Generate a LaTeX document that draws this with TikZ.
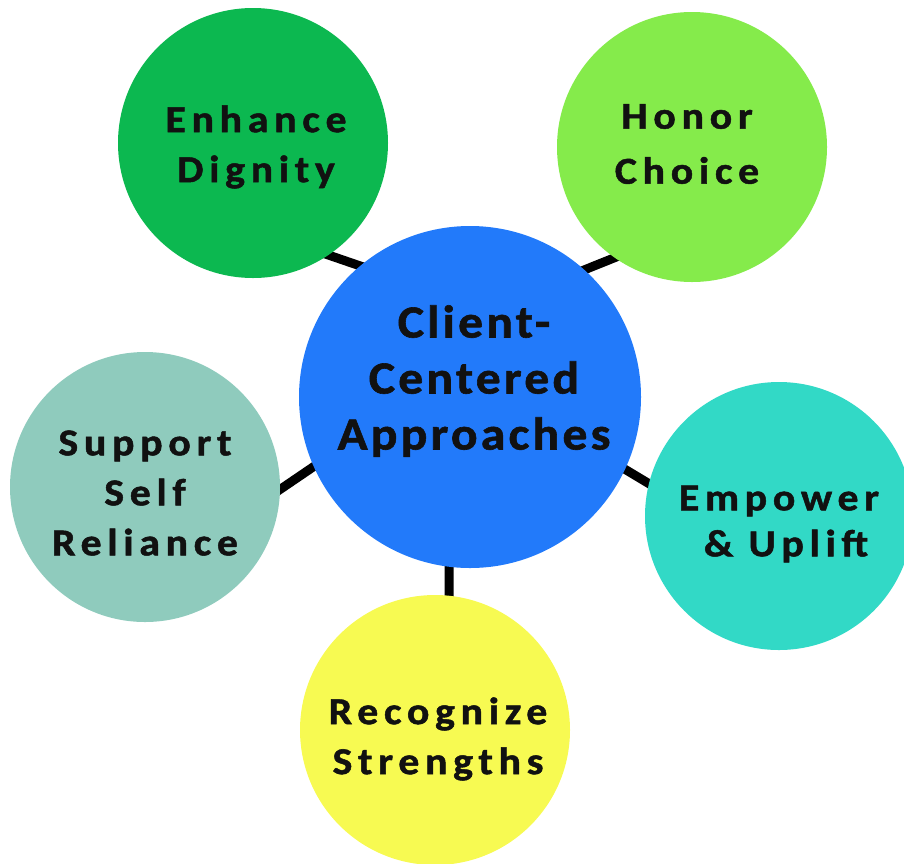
\documentclass[tikz,border=0pt]{standalone}
\usepackage{fontspec}
\usetikzlibrary{backgrounds}
\newfontfamily\lblfont{Carlito}[LetterSpace=15,FakeStretch=1.1,BoldFeatures={FakeBold=1.3}]
\newfontfamily\hubfont{Carlito}[LetterSpace=7,FakeStretch=1.08,BoldFeatures={FakeBold=1.3}]
\definecolor{cBlue}{RGB}{34,122,250}
\definecolor{cDignity}{RGB}{12,184,80}
\definecolor{cChoice}{RGB}{133,235,75}
\definecolor{cSelf}{RGB}{143,203,189}
\definecolor{cUplift}{RGB}{50,217,198}
\definecolor{cStrength}{RGB}{247,250,82}
\definecolor{cInk}{RGB}{17,17,17}
\begin{document}
\begin{tikzpicture}[x=1pt,y=-1pt,
  bubble/.style={circle,draw=none,inner sep=0pt,minimum size=270pt},
  hub/.style={circle,draw=none,inner sep=0pt,minimum size=342pt},
  lbl/.style={align=center,inner sep=0pt,text=cInk,
    font=\lblfont\bfseries\fontsize{38}{50}\selectfont},
  hublbl/.style={align=center,inner sep=0pt,text=cInk,
    font=\hubfont\bfseries\fontsize{46}{56}\selectfont},
  spoke/.style={line width=9pt,draw=black,shorten <=-6pt,shorten >=-6pt}]
\useasboundingbox (0,0) rectangle (904,863);
\clip (0,0) rectangle (904,863);
% circles
\node[hub,fill=cBlue] (cen) at (470,397) {};
\node[bubble,fill=cDignity] (dig) at (253,143) {};
\node[bubble,fill=cChoice] (hon) at (692,147) {};
\node[bubble,fill=cSelf] (sup) at (145,487) {};
\node[bubble,fill=cUplift,minimum size=268pt] (emp) at (779,516) {};
\node[bubble,fill=cStrength] (rec) at (435,730) {};
% spokes behind the circles
\begin{pgfonlayer}{background}
\draw[spoke] (dig.-56) -- (cen.130);
\draw[spoke] (cen.48) -- (hon.-125.5);
\draw[spoke] (sup.-1) -- (cen.204);
\draw[spoke] (cen.-25) -- (emp.166);
\draw[spoke] (cen.-97.4) -- (rec.84.5);
\end{pgfonlayer}
% labels
\node[hublbl] (cen-t) at (474,381) {Client-\\Centered\\Approaches};
\node[lbl] (dig-t) at (256,147) {Enhance\\Dignity};
\node[lbl] (hon-t) at (687,144) {Honor\\[5pt]Choice};
\node[lbl] (sup-t) at (145,493) {Support\\Self\\Reliance};
\node[lbl] (emp-t) at (779,524) {Empower\\[-4pt]\hspace*{14pt}\& Uplift};
\node[lbl] (rec-t) at (438,739) {Recognize\\Strengths};
\end{tikzpicture}
\end{document}
